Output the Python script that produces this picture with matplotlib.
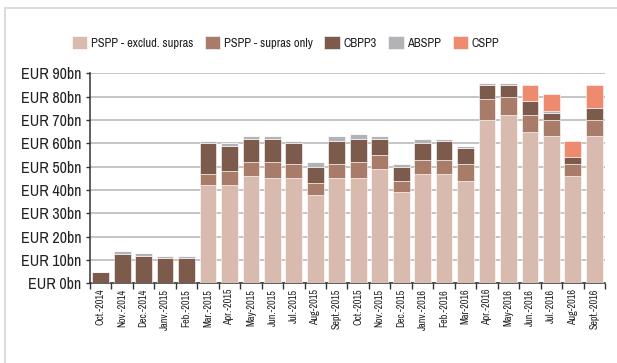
import numpy as np
import matplotlib
matplotlib.use("Agg")
import matplotlib.pyplot as plt
from matplotlib.patches import Rectangle

plt.rcParams['font.family'] = ['Archivo Narrow', 'Liberation Sans', 'DejaVu Sans']

months = ["Oct.-2014", "Nov.-2014", "Dec.-2014", "Janv.-2015", "Feb.-2015",
          "Mar.-2015", "Apr.-2015", "May-2015", "Jun.-2015", "Jul.-2015",
          "Aug-2015", "Sept.-2015", "Oct.-2015", "Nov.-2015", "Dec.-2015",
          "Janv.-2016", "Feb.-2016", "Mar-2016", "Apr.-2016", "May-2016",
          "Jun.-2016", "Jul.-2016", "Aug-2016", "Sept.-2016"]

pspp_excl = [0, 0, 0, 0, 0, 42, 42, 46, 45, 45, 38, 45, 45, 49, 39, 47, 47, 44,
             70, 72, 65, 63, 46, 63]
pspp_supras = [0, 0, 0, 0, 0, 5, 6, 6, 7, 6, 5, 6, 7, 6, 5, 6, 6, 7,
               9, 8, 7, 7, 5, 7]
cbpp3 = [5, 12.6, 11.9, 10.7, 10.7, 13, 11, 10, 10, 9, 7, 10, 10, 7, 6, 7, 8, 7,
         6, 5, 6, 3, 3, 5]
abspp = [0, 1.1, 1, 1, 1, 1.2, 1.1, 1.1, 1.1, 1.1, 2, 2, 2, 1, 1, 2, 1, 1,
         1, 1, 0, 1, -1, 0]
cspp = [0, 0, 0, 0, 0, 0, 0, 0, 0, 0, 0, 0, 0, 0, 0, 0, 0, 0,
        0, 0, 7, 7, 7, 10]

series = [("PSPP - exclud. supras", pspp_excl, "#D8BBAE"),
          ("PSPP - supras only", pspp_supras, "#A97B69"),
          ("CBPP3", cbpp3, "#7C5A4C"),
          ("ABSPP", abspp, "#B2B3B6"),
          ("CSPP", cspp, "#EE8A6D")]

yticks = [0, 10, 20, 30, 40, 50, 60, 70, 80, 90]
ytick_labels = ["EUR %dbn" % v for v in yticks]

fig = plt.figure(figsize=(6.17, 3.63), dpi=100)
ax = fig.add_axes([0.1459, 0.2196, 0.8346, 0.5784])

x = np.arange(len(months))
pos_bottom = np.zeros(len(months))
neg_bottom = np.zeros(len(months))
for name, vals, color in series:
    v = np.asarray(vals, dtype=float)
    bottom = np.where(v >= 0, pos_bottom, neg_bottom)
    ax.bar(x, v, bottom=bottom, width=0.78, color=color, label=name,
           edgecolor="white", linewidth=0.4, zorder=3)
    pos_bottom += np.where(v > 0, v, 0)
    neg_bottom += np.where(v < 0, v, 0)

ax.set_xlim(-0.5, len(months) - 0.5)
ax.set_ylim(0, 90)
ax.set_yticks(yticks)
ax.set_yticklabels(ytick_labels, fontsize=11.5, color="#222222")
ax.set_xticks(x)
ax.set_xticklabels(months, rotation=90, fontsize=7.3, color="#222222")
ax.set_xticks(np.arange(-0.5, len(months), 1), minor=True)
ax.tick_params(axis='x', which='major', length=0, pad=4)
ax.tick_params(axis='x', which='minor', length=4, width=1, color="#333333")
ax.tick_params(axis='y', length=3, width=1, color="#333333", pad=3)

ax.yaxis.grid(True, color="#B5B5B5", linewidth=1.1, zorder=0)
ax.set_axisbelow(True)
for s in ("top", "right"):
    ax.spines[s].set_visible(False)
ax.spines["left"].set_color("#333333")
ax.spines["bottom"].set_color("#333333")
ax.spines["left"].set_linewidth(1.1)
ax.spines["bottom"].set_linewidth(1.1)

handles, labels = ax.get_legend_handles_labels()
fig.legend(handles, labels, ncol=5, loc="center", bbox_to_anchor=(0.463, 0.882),
           frameon=False, fontsize=9, handlelength=1.25, handleheight=1.25,
           handletextpad=0.3, columnspacing=0.9, labelcolor="#222222")

fig.patches.append(Rectangle((4.5 / 617, -0.05), 1.2, 1 - 8.5 / 363 + 0.05,
                             transform=fig.transFigure, fill=False,
                             edgecolor="#DCDCDC", linewidth=1.5))

fig.savefig("out.png", dpi=100)
